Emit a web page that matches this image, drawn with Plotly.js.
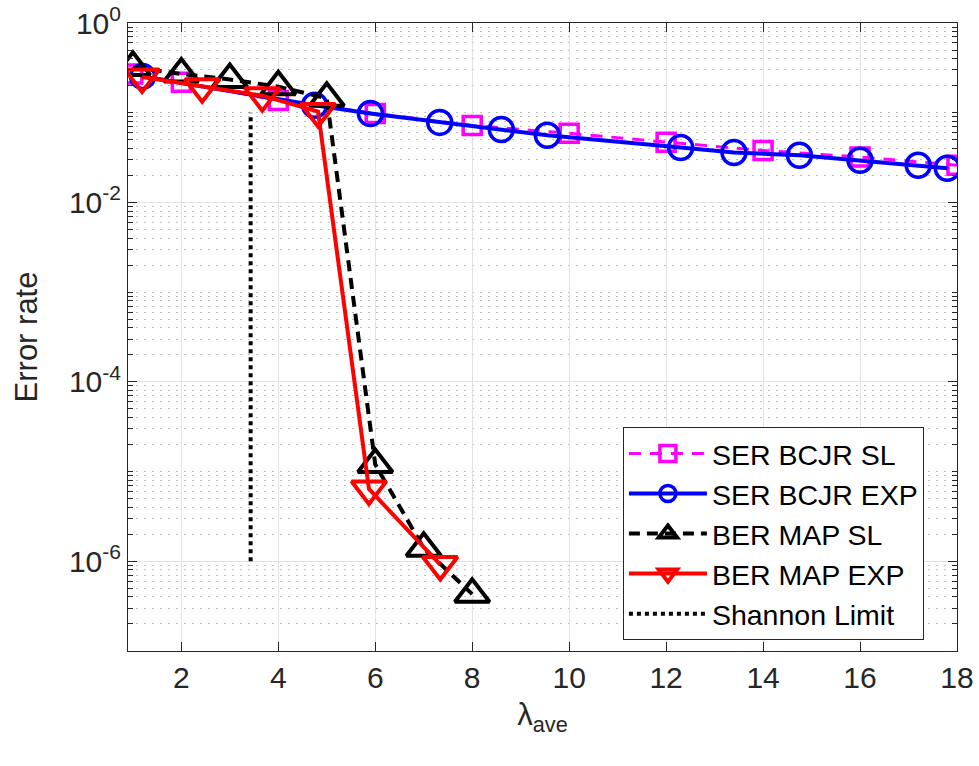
<!DOCTYPE html>
<html>
<head>
<meta charset="utf-8">
<script src="https://cdn.plot.ly/plotly-3.0.1.min.js"></script>
<style>html,body{margin:0;padding:0;background:#fff}#chart{width:979px;height:766px}</style>
</head>
<body>
<div id="chart"></div>
<script>
// ---- data ----
const serSlX = [1, 2, 4, 6, 8, 10, 12, 14, 16, 18];
const serSlY = [0.27, 0.218, 0.137, 0.098, 0.072, 0.059, 0.047, 0.038, 0.032, 0.026];

const serExpX = [1.2, 4.75, 5.9, 7.33, 8.6, 9.55, 12.3, 13.4, 14.75, 16.0, 17.2, 17.8];
const serExpY = [0.254, 0.121, 0.098, 0.078, 0.065, 0.056, 0.041, 0.036, 0.0335, 0.0295, 0.026, 0.024];

const berSlX = [1, 2, 3, 4, 5, 6, 7, 8];
const berSlY = [0.32, 0.27, 0.235, 0.195, 0.145, 1.2e-5, 1.4e-6, 4.3e-7];

const berExpX = [1.19, 2.43, 3.67, 4.82, 5.87, 7.34];
const berExpY = [0.25, 0.195, 0.155, 0.103, 6.4e-6, 9.2e-7];

const shannonX = [3.43, 3.43];
const shannonY = [1e-6, 0.1];

const names = ['SER BCJR SL', 'SER BCJR EXP', 'BER MAP SL', 'BER MAP EXP', 'Shannon Limit'];

const yTickVals = [1e-6, 1e-4, 1e-2, 1];
const yTickText = ['10<sup>-6</sup>', '10<sup>-4</sup>', '10<sup>-2</sup>', '10<sup>0</sup>'];
const xTickVals = [2, 4, 6, 8, 10, 12, 14, 16, 18];
const xTickText = ['2', '4', '6', '8', '10', '12', '14', '16', '18'];

const FONT = 'Liberation Sans, Arial, sans-serif';
const AX = '#262626';

const traces = [
  {x: serSlX, y: serSlY, name: names[0], mode: 'lines+markers',
   line: {color: '#ff00ff', width: 3, dash: '12px,9px'},
   marker: {symbol: 'square-open', size: 18, color: '#ff00ff', line: {width: 3.5, color: '#ff00ff'}}},
  {x: serExpX, y: serExpY, name: names[1], mode: 'lines+markers',
   line: {color: '#0000ff', width: 4},
   marker: {symbol: 'circle-open', size: 24, color: '#0000ff', line: {width: 3.5, color: '#0000ff'}}},
  {x: berSlX, y: berSlY, name: names[2], mode: 'lines+markers',
   line: {color: '#000000', width: 4, dash: '11px,7px'},
   marker: {symbol: 'triangle-up-open', size: 30, color: '#000000', line: {width: 4, color: '#000000'}}},
  {x: berExpX, y: berExpY, name: names[3], mode: 'lines+markers',
   line: {color: '#ff0000', width: 4},
   marker: {symbol: 'triangle-down-open', size: 30, color: '#ff0000', line: {width: 4, color: '#ff0000'}}},
  {x: shannonX, y: shannonY, name: names[4], mode: 'lines',
   line: {color: '#000000', width: 4, dash: 'dot'}}
];

const layout = {
  width: 979, height: 766,
  paper_bgcolor: '#ffffff', plot_bgcolor: '#ffffff',
  margin: {l: 128, r: 22, t: 23, b: 115},
  font: {family: FONT, size: 30, color: AX},
  showlegend: true,
  legend: {
    x: 0.597, y: 0.356, xanchor: 'left', yanchor: 'top',
    bgcolor: '#ffffff', bordercolor: AX, borderwidth: 1,
    font: {family: FONT, size: 28.5, color: '#000000'},
    itemwidth: 78, tracegroupgap: 0
  },
  xaxis: {
    range: [0.9, 18],
    tickmode: 'array', tickvals: xTickVals, ticktext: xTickText,
    ticks: 'inside', ticklen: 9, tickwidth: 1, tickcolor: AX,
    showline: true, linecolor: AX, linewidth: 1, mirror: 'ticks',
    showgrid: true, gridcolor: '#e2e2e2', gridwidth: 1,
    zeroline: false,
    tickfont: {family: FONT, size: 30, color: AX},
    title: {text: 'λ<sub>ave</sub>', font: {family: FONT, size: 31, color: AX}, standoff: 10}
  },
  yaxis: {
    type: 'log', range: [-7, 0],
    tickmode: 'array', tickvals: yTickVals, ticktext: yTickText,
    ticks: 'inside', ticklen: 9, tickwidth: 1, tickcolor: AX,
    showline: true, linecolor: AX, linewidth: 1, mirror: 'ticks',
    showgrid: true, gridcolor: '#e2e2e2', gridwidth: 1,
    zeroline: false,
    tickfont: {family: FONT, size: 30, color: AX},
    minor: {dtick: 'D1', ticks: 'inside', ticklen: 5, tickcolor: AX, tickwidth: 1,
            showgrid: true, gridcolor: '#c0c0c0', griddash: '2px,6px', gridwidth: 1},
    title: {text: 'Error rate', font: {family: FONT, size: 31, color: AX}, standoff: 22}
  }
};

Plotly.newPlot('chart', traces, layout, {staticPlot: true, displayModeBar: false});
</script>
</body>
</html>
